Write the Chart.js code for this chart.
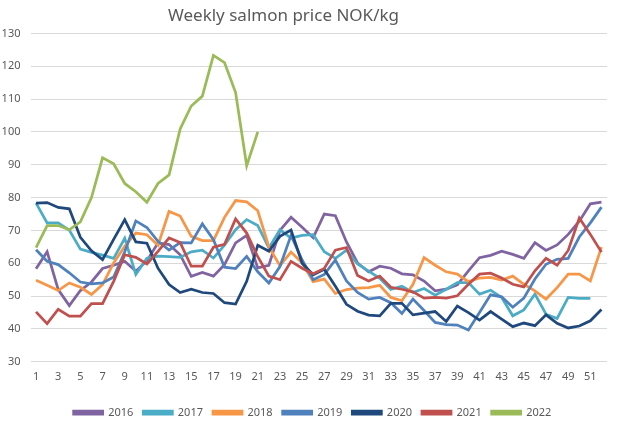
<!DOCTYPE html>
<html>
<head>
<meta charset="utf-8">
<script src="https://cdn.jsdelivr.net/npm/chart.js@4"></script>
<style>
  html, body { margin: 0; padding: 0; background: #ffffff; }
  #wrap { width: 619px; height: 425px; }
</style>
</head>
<body>
<div id="wrap"><canvas id="c" width="619" height="425"></canvas></div>
<script>
const weeks = Array.from({length: 52}, (_, i) => String(i + 1));
const yearLabels = ['2016', '2017', '2018', '2019', '2020', '2021', '2022'];

const s2016 = [58.3,63.5,52,47.1,51.7,54.3,58.4,59.4,60.6,57.6,60.8,66.2,65.7,62.6,56,57.2,56.1,59.6,66.2,68.5,58.6,59.4,70,74,71,67.8,75,74.5,66.5,60.1,57.4,59.1,58.5,56.8,56.5,54.6,51.6,52.1,53.4,57.7,61.7,62.4,63.7,62.7,61.5,66.3,63.9,65.6,68.8,72.8,78.1,78.6];
const s2017 = [78.3,72.3,72.3,70.1,64.3,63.3,62.5,61.5,67.6,56.6,61.5,62.2,62,61.8,63.5,64,61.6,65.5,70.2,73.3,71.5,64.7,70.2,67.7,68.5,68.7,63.5,61.5,64,59.8,57.6,55.4,52,53,51.1,52.3,50.3,52.1,54.1,54.1,50.6,51.8,49.6,44,45.8,50.6,44.5,43.2,49.6,49.3,49.3,null];
const s2018 = [54.8,53.3,51.7,54,52.7,50.5,53.5,60.1,65.2,69.2,68.7,65.5,75.8,74.4,68.2,66.9,66.9,74,79.1,78.7,76,65,59.3,63.4,60.1,54.4,55.2,50.8,52,52.4,52.6,53.3,49.6,48.6,53.6,61.7,59.4,57.4,56.7,54.4,55.5,55.7,54.9,56.1,53.6,51.6,49.1,52.6,56.7,56.7,54.6,64.9];
const s2019 = [64.1,60.6,59.6,57.1,54.3,53.7,54,55.8,63.5,72.9,70.9,66.7,64,66.3,66.2,72,67.2,58.8,58.4,62.1,57.4,54,59,68.5,61,55,56.6,61,54.6,51.1,49.1,49.6,48,44.7,49.1,45.6,42,41.3,41.2,39.7,45,50.4,49.8,46.6,49.4,55.2,59.7,61.2,61.5,68,72.3,77.1];
const s2020 = [78.3,78.5,77,76.6,67.9,63.8,61.1,67.3,73.3,66.5,66.1,58.5,53.5,51.1,52.1,51.1,50.8,48,47.6,54.5,65.5,63.7,68.2,70.1,60,56.5,58.2,53,47.5,45.4,44.2,44,47.8,47.8,44.3,44.8,45.3,42.3,47,45,42.7,45.3,43,40.7,41.8,41,44.3,41.7,40.3,40.9,42.5,45.9];
const s2021 = [45.2,41.6,46,43.9,43.9,47.7,47.7,54.5,62.6,61.8,59.8,63.6,67.7,66.3,59.1,59.1,64.9,65.8,73.5,69.2,62,56.1,55,60.6,58.5,56.8,58.4,64,64.8,56.3,54.6,56.1,52.7,52.1,51.3,49.4,49.6,49.4,50.1,53.6,56.7,57,55.5,53.6,52.8,57.7,61.5,59.4,63.9,73.8,68.8,63.4];
const s2022 = [64.8,71.5,71.5,70.2,72.6,80,92.1,90.3,84.3,81.8,78.6,84.3,86.9,100.9,107.9,110.9,123.3,121.1,112,89.7,100];

const seriesValues = [s2016, s2017, s2018, s2019, s2020, s2021, s2022];
const seriesColors = ['#8064A2', '#4BACC6', '#F79646', '#4F81BD', '#1F497D', '#C0504D', '#9BBB59'];

const FONT = "'Noto Sans', 'Liberation Sans', sans-serif";
const GREY = '#595959';

const datasets = seriesValues.map((vals, i) => ({
  label: yearLabels[i],
  data: vals,
  borderColor: seriesColors[i],
  backgroundColor: seriesColors[i],
  borderWidth: 2.75,
  pointRadius: 0,
  pointHoverRadius: 0,
  tension: 0,
  fill: false,
  spanGaps: false,
  order: seriesValues.length - i
}));

const whiteBg = {
  id: 'whiteBg',
  beforeDraw(chart) {
    const ctx = chart.ctx;
    ctx.save();
    ctx.fillStyle = '#ffffff';
    ctx.fillRect(0, 0, chart.width, chart.height);
    ctx.restore();
  }
};

// nudge title and legend blocks to match the reference placement
const nudge = {
  id: 'nudge',
  afterLayout(chart) {
    const lg = chart.legend;
    if (lg) { lg.left += 8; lg.right += 8; lg.top += 3; lg.bottom += 3; }
    const tb = chart.titleBlock;
    if (tb) { tb.left -= 21; tb.right -= 21; }
  }
};

new Chart(document.getElementById('c'), {
  type: 'line',
  data: { labels: weeks, datasets },
  plugins: [whiteBg, nudge],
  options: {
    responsive: false,
    animation: false,
    devicePixelRatio: 1,
    layout: { padding: { left: 2, right: 12, top: 0, bottom: 0 } },
    plugins: {
      title: {
        display: true,
        text: 'Weekly salmon price NOK/kg',
        color: GREY,
        font: { family: FONT, size: 17, weight: 'normal' },
        padding: { top: 6, bottom: 7 }
      },
      legend: {
        position: 'bottom',
        labels: {
          color: GREY,
          font: { family: FONT, size: 11 },
          boxWidth: 29,
          boxHeight: 3,
          padding: 10,
          sort: (a, b) => a.datasetIndex - b.datasetIndex
        }
      },
      tooltip: { enabled: false }
    },
    scales: {
      x: {
        offset: true,
        grid: { display: false, drawTicks: false },
        border: { display: false },
        ticks: {
          color: GREY,
          font: { family: FONT, size: 11 },
          autoSkip: false,
          maxRotation: 0,
          padding: 8,
          callback: function(value, index) { return index % 2 === 0 ? this.getLabelForValue(value) : ''; }
        },
        afterFit: (scale) => { scale.height += 3; }
      },
      y: {
        min: 30,
        max: 130,
        grid: { color: '#D9D9D9', lineWidth: 1, drawTicks: false },
        border: { display: false },
        ticks: {
          stepSize: 10,
          color: GREY,
          font: { family: FONT, size: 11 },
          padding: 10
        },
        afterFit: (scale) => { scale.width = 28.5; }
      }
    }
  }
});
</script>
</body>
</html>
